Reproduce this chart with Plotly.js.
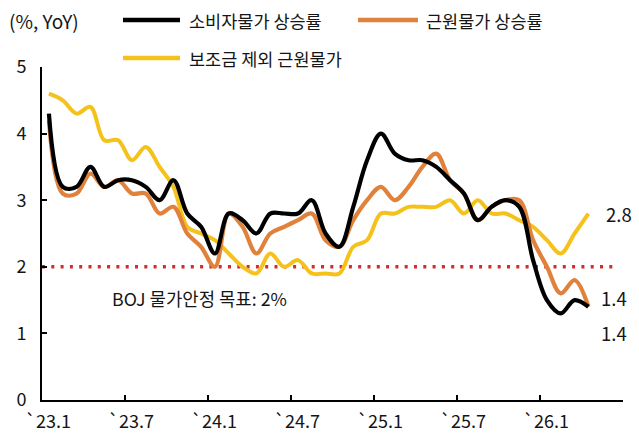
<!DOCTYPE html>
<html>
<head>
<meta charset="utf-8">
<script src="https://cdn.plot.ly/plotly-3.0.1.min.js"></script>
<style>html,body{margin:0;padding:0;background:#fff;}#chart{width:639px;height:439px;}</style>
</head>
<body>
<div id="chart"></div>
<script>
// Months: 2023.1 ... 2026.4 (index 0..39)
const months = ["23.1","23.2","23.3","23.4","23.5","23.6","23.7","23.8","23.9","23.10","23.11","23.12",
  "24.1","24.2","24.3","24.4","24.5","24.6","24.7","24.8","24.9","24.10","24.11","24.12",
  "25.1","25.2","25.3","25.4","25.5","25.6","25.7","25.8","25.9","25.10","25.11","25.12",
  "26.1","26.2","26.3","26.4"];
const cpi = [4.3,3.2,3.2,3.5,3.2,3.3,3.3,3.2,3.0,3.3,2.8,2.6,
  2.2,2.8,2.7,2.5,2.8,2.8,2.8,3.0,2.5,2.3,2.9,3.6,
  4.0,3.7,3.6,3.6,3.5,3.3,3.1,2.7,2.9,3.0,2.9,2.1,
  1.5,1.3,1.5,1.4];
const core = [4.2,3.1,3.1,3.4,3.2,3.3,3.1,3.1,2.8,2.9,2.5,2.3,
  2.0,2.8,2.6,2.2,2.5,2.6,2.7,2.8,2.4,2.3,2.7,3.0,
  3.2,3.0,3.2,3.5,3.7,3.3,3.1,2.7,2.9,3.0,3.0,2.4,
  2.0,1.6,1.8,1.4];
const coreExSubsidy = [4.6,4.5,4.3,4.4,3.9,3.9,3.6,3.8,3.5,3.2,2.6,2.5,
  2.4,2.2,2.0,1.9,2.2,2.0,2.1,1.9,1.9,1.9,2.3,2.4,
  2.8,2.8,2.9,2.9,2.9,3.0,2.8,3.0,2.8,2.8,2.7,2.6,
  2.4,2.2,2.5,2.8];
const seriesNames = ["소비자물가 상승률","근원물가 상승률","보조금 제외 근원물가"];
const tickLabels = ["`23.1","`23.7","`24.1","`24.7","`25.1","`25.7","`26.1",""];
const bojTarget = 2;
const targetLabel = "BOJ 물가안정 목표: 2%";
const unitLabel = "(%, YoY)";

const idx = months.map((_, i) => i);
const tickVals = tickLabels.map((_, k) => k * 6 - 0.5);
const FONT = "'Noto Sans CJK KR', 'Noto Sans', sans-serif";
const C_BLACK = "#000000", C_ORANGE = "#E0823C", C_YELLOW = "#F5C21B";
const TXT = "#151515";

function trace(y, name, color, w) {
  return {x: idx, y: y, name: name, type: "scatter", mode: "lines",
    line: {color: color, width: w, shape: "spline", smoothing: 1}, showlegend: false, hoverinfo: "skip"};
}
const data = [
  trace(coreExSubsidy, seriesNames[2], C_YELLOW, 4),
  trace(core, seriesNames[1], C_ORANGE, 4.2),
  trace(cpi, seriesNames[0], C_BLACK, 4.2)
];

const last = months.length - 1;
function legendLine(x0, x1, yUp, color) {
  return {type: "line", xref: "paper", yref: "paper", xsizemode: "pixel", ysizemode: "pixel",
    xanchor: 0, yanchor: 1, x0: x0, x1: x1, y0: yUp, y1: yUp,
    line: {color: color, width: 4.5}};
}
function paperText(text, xs, ys, size) {
  return {text: text, xref: "paper", yref: "paper", x: 0, y: 1, xanchor: "left", yanchor: "middle",
    xshift: xs, yshift: ys, showarrow: false, font: {family: FONT, size: size || 17.5, color: TXT}};
}

const layout = {
  width: 639, height: 439,
  margin: {l: 42, r: 16, t: 67, b: 39},
  paper_bgcolor: "#fff", plot_bgcolor: "#fff",
  font: {family: FONT, size: 18, color: TXT},
  xaxis: {range: [-0.5, 41.5], tickvals: tickVals, ticktext: tickLabels,
    ticks: "inside", ticklen: 5, tickwidth: 2, tickcolor: "#000",
    showline: true, linewidth: 2, linecolor: "#000", showgrid: false, zeroline: false,
    ticklabelshift: 6, ticklabelstandoff: 4, tickfont: {family: FONT, size: 18, color: TXT}},
  yaxis: {range: [0, 5], dtick: 1, tick0: 0,
    ticks: "inside", ticklen: 5, tickwidth: 2, tickcolor: "#000",
    showline: true, linewidth: 2, linecolor: "#000", showgrid: false, zeroline: false,
    ticklabelstandoff: 10, tickfont: {family: FONT, size: 18, color: TXT}},
  shapes: [
    {type: "line", xref: "x", yref: "y", x0: -0.5, x1: 41, y0: bojTarget, y1: bojTarget,
      line: {color: "#D42B2B", width: 3.5, dash: "3px,6.3px"}, layer: "below"},
    legendLine(81, 138, 47, C_BLACK),
    legendLine(316, 376, 47, C_ORANGE),
    legendLine(81, 138, 9, C_YELLOW)
  ],
  annotations: [
    paperText(unitLabel, -35, 47, 19),
    paperText(seriesNames[0], 145, 47),
    paperText(seriesNames[1], 382, 47),
    paperText(seriesNames[2], 145, 9),
    {text: targetLabel, xref: "paper", yref: "y", x: 0, y: bojTarget, xanchor: "left", yanchor: "middle",
      xshift: 68, yshift: -31, showarrow: false, font: {family: FONT, size: 17.8, color: TXT}},
    {text: coreExSubsidy[last].toFixed(1), xref: "x", yref: "y", x: last, y: coreExSubsidy[last],
      xanchor: "left", yanchor: "middle", xshift: 16, yshift: 0, showarrow: false, font: {family: FONT, size: 18.5, color: TXT}},
    {text: core[last].toFixed(1), xref: "x", yref: "y", x: last, y: core[last],
      xanchor: "left", yanchor: "middle", xshift: 11, yshift: 9, showarrow: false, font: {family: FONT, size: 18.5, color: TXT}},
    {text: cpi[last].toFixed(1), xref: "x", yref: "y", x: last, y: cpi[last],
      xanchor: "left", yanchor: "middle", xshift: 11, yshift: -26, showarrow: false, font: {family: FONT, size: 18.5, color: TXT}}
  ]
};

Plotly.newPlot("chart", data, layout, {staticPlot: true, displayModeBar: false});
</script>
</body>
</html>
